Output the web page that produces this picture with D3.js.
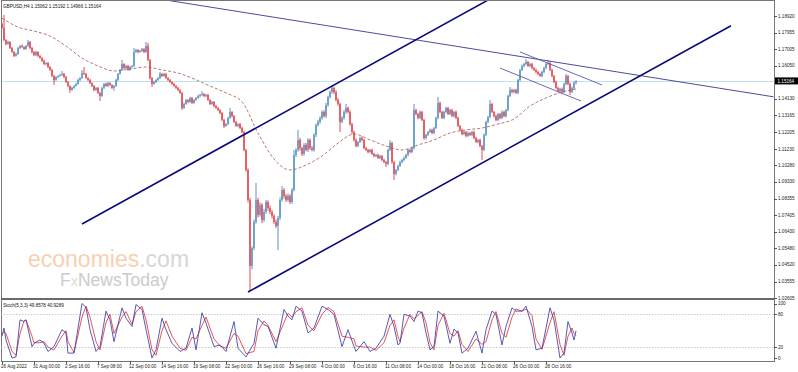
<!DOCTYPE html>
<html lang="en">
<head>
<meta charset="UTF-8" />
<title>GBPUSD H4</title>
<style>
  body { margin: 0; background: #fff; }
  svg { display: block; font-family: "Liberation Sans", Arial, sans-serif; }
</style>
</head>
<body>
<div id="chart"></div>
<script src="https://d3js.org/d3.v7.min.js"></script>
<script>
// H4 closes, 26 Aug 2022 08:00 .. 2 Nov 2022 04:00 (open = previous close)
const firstOpen = 1.1846;
const closes = [
  1.1823, 1.1753, 1.1730, 1.1742, 1.1707, 1.1684, 1.1661, 1.1672, 1.1707, 1.1719, 1.1713, 1.1701, 1.1719, 1.1742, 1.1707, 1.1684,
  1.1666, 1.1684, 1.1661, 1.1649, 1.1632, 1.1614, 1.1620, 1.1597, 1.1580, 1.1545, 1.1522, 1.1539, 1.1545, 1.1551, 1.1557, 1.1539,
  1.1510, 1.1487, 1.1464, 1.1476, 1.1487, 1.1499, 1.1522, 1.1533, 1.1562, 1.1557, 1.1533, 1.1522, 1.1504, 1.1487, 1.1464, 1.1476,
  1.1447, 1.1429, 1.1476, 1.1499, 1.1487, 1.1504, 1.1493, 1.1476, 1.1487, 1.1522, 1.1557, 1.1580, 1.1614, 1.1591, 1.1603, 1.1580,
  1.1597, 1.1603, 1.1684, 1.1695, 1.1684, 1.1690, 1.1701, 1.1684, 1.1719, 1.1638, 1.1533, 1.1499, 1.1510, 1.1522, 1.1533, 1.1557,
  1.1545, 1.1557, 1.1533, 1.1522, 1.1510, 1.1499, 1.1487, 1.1476, 1.1464, 1.1447, 1.1360, 1.1383, 1.1406, 1.1395, 1.1418, 1.1389,
  1.1406, 1.1418, 1.1429, 1.1435, 1.1441, 1.1429, 1.1435, 1.1406, 1.1383, 1.1395, 1.1371, 1.1360, 1.1348, 1.1331, 1.1290, 1.1256,
  1.1267, 1.1302, 1.1337, 1.1313, 1.1279, 1.1256, 1.1267, 1.1244, 1.1221, 1.1117, 1.1001, 1.0828, 1.0446, 1.0550, 1.0700, 1.0828,
  1.0741, 1.0799, 1.0712, 1.0758, 1.0816, 1.0781, 1.0758, 1.0735, 1.0700, 1.0677, 1.0723, 1.0828, 1.0885, 1.0851, 1.0828, 1.0851,
  1.0816, 1.0885, 1.1088, 1.1117, 1.1175, 1.1128, 1.1094, 1.1146, 1.1117, 1.1175, 1.1128, 1.1117, 1.1204, 1.1261, 1.1279, 1.1302,
  1.1337, 1.1313, 1.1377, 1.1423, 1.1452, 1.1476, 1.1452, 1.1406, 1.1383, 1.1279, 1.1302, 1.1337, 1.1360, 1.1337, 1.1267, 1.1221,
  1.1175, 1.1140, 1.1163, 1.1186, 1.1175, 1.1128, 1.1117, 1.1105, 1.1117, 1.1094, 1.1082, 1.1088, 1.1071, 1.1082, 1.1059, 1.1047,
  1.1036, 1.1117, 1.1157, 1.1047, 1.0978, 1.1001, 1.1024, 1.1047, 1.1059, 1.1071, 1.1088, 1.1117, 1.1105, 1.1128, 1.1348, 1.1325,
  1.1302, 1.1337, 1.1290, 1.1186, 1.1204, 1.1221, 1.1233, 1.1215, 1.1244, 1.1302, 1.1389, 1.1337, 1.1302, 1.1337, 1.1360, 1.1325,
  1.1348, 1.1313, 1.1337, 1.1302, 1.1256, 1.1233, 1.1209, 1.1221, 1.1198, 1.1215, 1.1204, 1.1221, 1.1186, 1.1163, 1.1175, 1.1140,
  1.1117, 1.1204, 1.1279, 1.1308, 1.1383, 1.1337, 1.1313, 1.1290, 1.1325, 1.1302, 1.1337, 1.1313, 1.1348, 1.1429, 1.1464, 1.1452,
  1.1464, 1.1447, 1.1522, 1.1580, 1.1603, 1.1614, 1.1626, 1.1603, 1.1614, 1.1591, 1.1580, 1.1568, 1.1557, 1.1545, 1.1568, 1.1591,
  1.1614, 1.1620, 1.1580, 1.1545, 1.1510, 1.1476, 1.1458, 1.1470, 1.1452, 1.1499, 1.1545, 1.1499, 1.1452, 1.1476, 1.15062, 1.15164
];
// wick lengths above / below the body, in pips
const upWick = [
  6, 75, 5, 8, 4, 6, 5, 8, 6, 5, 9, 4, 6, 12, 5, 6,
  5, 7, 4, 6, 5, 8, 4, 6, 5, 7, 6, 5, 4, 6, 17, 5,
  6, 5, 4, 7, 5, 6, 8, 5, 17, 35, 6, 5, 7, 4, 6, 5,
  5, 6, 7, 5, 8, 6, 5, 4, 6, 7, 5, 6, 23, 5, 7, 6,
  6, 5, 23, 6, 5, 7, 6, 5, 23, 17, 5, 6, 7, 5, 6, 12,
  5, 7, 6, 5, 6, 4, 7, 5, 6, 5, 6, 8, 6, 5, 7, 6,
  6, 5, 7, 6, 17, 5, 6, 7, 5, 6, 5, 7, 6, 5, 6, 7,
  6, 7, 23, 5, 6, 7, 5, 6, 8, 6, 8, 10, 12, 10, 15, 98,
  12, 15, 10, 18, 12, 10, 15, 12, 10, 14, 12, 15, 23, 12, 10, 14,
  10, 12, 29, 10, 58, 12, 8, 10, 12, 10, 8, 12, 10, 8, 12, 10,
  8, 10, 12, 8, 10, 17, 8, 10, 12, 8, 10, 12, 23, 8, 10, 8,
  8, 10, 6, 8, 10, 6, 8, 7, 6, 8, 7, 6, 8, 7, 6, 8,
  7, 8, 17, 8, 7, 6, 8, 7, 6, 8, 7, 6, 8, 7, 35, 8,
  7, 8, 6, 8, 7, 6, 8, 7, 6, 8, 35, 7, 6, 8, 7, 6,
  8, 7, 6, 8, 7, 6, 8, 7, 6, 8, 7, 6, 8, 7, 6, 8,
  6, 8, 7, 6, 23, 7, 6, 8, 7, 6, 8, 7, 6, 8, 17, 7,
  6, 8, 7, 6, 8, 7, 17, 6, 8, 7, 6, 8, 7, 6, 8, 7,
  6, 17, 8, 7, 6, 8, 7, 6, 8, 7, 12, 6, 8, 7, 6, 3
];
const dnWick = [
  5, 6, 8, 5, 6, 5, 6, 4, 5, 7, 5, 6, 4, 5, 6, 8,
  6, 5, 7, 4, 6, 5, 8, 6, 5, 6, 29, 5, 6, 4, 5, 7,
  5, 7, 17, 5, 6, 4, 5, 6, 5, 6, 4, 7, 5, 6, 8, 5,
  6, 29, 5, 6, 4, 7, 5, 6, 17, 5, 6, 4, 5, 7, 6, 5,
  5, 7, 6, 5, 8, 5, 6, 7, 5, 6, 8, 17, 5, 6, 5, 6,
  6, 5, 4, 7, 5, 6, 5, 6, 7, 5, 12, 6, 5, 8, 5, 6,
  5, 6, 5, 7, 5, 6, 8, 5, 6, 5, 7, 5, 6, 8, 6, 12,
  5, 6, 5, 7, 6, 5, 8, 6, 7, 8, 10, 15, 145, 20, 12, 10,
  14, 10, 18, 12, 10, 15, 12, 14, 10, 12, 139, 12, 10, 15, 12, 10,
  12, 10, 8, 12, 10, 15, 12, 10, 8, 12, 10, 8, 10, 12, 8, 10,
  10, 8, 12, 10, 8, 10, 12, 8, 10, 58, 8, 10, 12, 8, 10, 12,
  10, 8, 7, 6, 8, 7, 6, 8, 7, 6, 8, 7, 6, 8, 7, 6,
  17, 8, 7, 10, 35, 8, 7, 6, 8, 7, 6, 8, 7, 6, 8, 7,
  8, 7, 6, 10, 8, 7, 6, 8, 7, 6, 8, 7, 6, 8, 7, 6,
  7, 6, 8, 7, 6, 8, 7, 6, 8, 7, 6, 8, 7, 6, 8, 7,
  58, 7, 6, 8, 7, 6, 8, 7, 6, 8, 7, 6, 8, 7, 6, 8,
  7, 6, 8, 7, 6, 8, 7, 6, 8, 7, 6, 8, 7, 6, 8, 7,
  8, 7, 6, 8, 7, 6, 8, 7, 12, 6, 8, 7, 17, 6, 8, 10
];

// moving average (dashed), read at every 8th bar
const maBars = [0, 8, 16, 24, 32, 40, 48, 56, 64, 72, 80, 88, 96, 104, 112, 120, 128, 136, 144,
  152, 160, 168, 176, 184, 192, 200, 208, 216, 224, 232, 240, 248, 256, 264, 272, 280, 287];
const maValues = [1.1880, 1.1828, 1.1805, 1.1776, 1.1718, 1.1649, 1.1603, 1.1574, 1.1585, 1.1597,
  1.1580, 1.1562, 1.1528, 1.1487, 1.1447, 1.1395, 1.1215, 1.1065, 1.1001, 1.1030, 1.1082, 1.1157,
  1.1209, 1.1175, 1.1140, 1.1117, 1.1146, 1.1175, 1.1215, 1.1233, 1.1244, 1.1267, 1.1296, 1.1371,
  1.1418, 1.1452, 1.1470];

// Stoch(5,3,3) turning points
const stochBars = [0, 1, 2, 5, 7, 9, 11, 12, 15, 16, 19, 21, 23, 26, 30, 32, 33, 36, 40, 42,
  44, 47, 49, 52, 54, 56, 60, 62, 65, 67, 70, 72, 75, 77, 80, 82, 85, 89, 92, 95,
  97, 100, 102, 106, 109, 112, 116, 118, 122, 126, 128, 131, 133, 137, 141, 143, 145, 147, 150, 153,
  156, 160, 163, 166, 170, 173, 176, 177, 181, 184, 187, 191, 194, 196, 198, 199, 201, 204, 206, 208,
  210, 212, 214, 216, 218, 221, 224, 226, 228, 230, 233, 237, 240, 242, 245, 247, 250, 252, 255, 257,
  260, 262, 265, 267, 270, 274, 276, 279, 281, 283, 285, 286, 287];
const stochK = [40, 55, 33, 0, 2, 70, 67, 70, 21, 27, 33, 27, 12, 21, 52, 46, 9, 9, 100, 93,
  52, 12, 21, 86, 70, 30, 92, 73, 58, 98, 89, 52, 0, 15, 73, 52, 27, 12, 18, 55,
  15, 83, 64, 21, 24, 12, 67, 18, 2, 27, 73, 61, 58, 18, 89, 77, 70, 95, 86, 46,
  55, 95, 89, 80, 21, 52, 21, 12, 30, 12, 18, 40, 80, 58, 24, 27, 80, 77, 67, 86,
  83, 46, 15, 21, 86, 77, 27, 53, 46, 9, 18, 49, 9, 52, 86, 80, 24, 58, 92, 86,
  86, 95, 58, 15, 18, 92, 70, 0, 9, 67, 46, 33, 49.8578];
const stochD = [45, 48, 45, 12, 5, 45, 68, 70, 40, 28, 28, 30, 20, 15, 40, 50, 30, 10, 75, 95,
  75, 30, 15, 65, 80, 45, 75, 85, 62, 85, 95, 70, 15, 5, 50, 68, 40, 18, 14, 38,
  35, 60, 75, 35, 22, 18, 45, 40, 8, 12, 50, 68, 60, 30, 65, 82, 75, 85, 92, 60,
  50, 80, 93, 85, 40, 38, 35, 22, 20, 20, 14, 28, 60, 70, 40, 30, 55, 80, 72, 78,
  85, 65, 28, 15, 60, 82, 45, 40, 50, 25, 12, 35, 25, 30, 70, 85, 45, 38, 75, 90,
  86, 90, 78, 35, 16, 65, 85, 25, 5, 40, 55, 45, 40.9289];

// drawn objects, [bar, price] end points
const channelUpper = [[40, 1.0689], [250, 1.2029]];
const channelLower = [[123, 1.0295], [364.5, 1.1836]];
const longLine = [[80, 1.1988], [386, 1.1424]];
const wedgeUpper = [[259, 1.1684], [300, 1.1493]];
const wedgeLower = [[249, 1.1591], [289.5, 1.1400]];

const priceTicks = [1.18920, 1.17955, 1.17005, 1.16050, 1.14130, 1.13165, 1.12205, 1.11230,
  1.10280, 1.09330, 1.08355, 1.07405, 1.06430, 1.05480, 1.04520, 1.03555, 1.02605];
const stochTicks = [100, 80, 20, 0];
const timeLabels = ["26 Aug 2022", "31 Aug 00:00", "2 Sep 16:00", "7 Sep 08:00", "12 Sep 00:00",
  "14 Sep 16:00", "19 Sep 08:00", "22 Sep 00:00", "26 Sep 16:00", "29 Sep 08:00", "4 Oct 00:00",
  "6 Oct 16:00", "11 Oct 08:00", "14 Oct 00:00", "18 Oct 16:00", "21 Oct 08:00", "26 Oct 00:00",
  "28 Oct 16:00"];
const lastPrice = 1.15164;

const width = 798, height = 372;
const left = 1, right = 774;
const mainTop = 0.5, mainBottom = 298;
const stTop = 300, stBottom = 361;
const fs = 4.6;

const x = d3.scaleLinear().domain([0, 386]).range([2, 774]);
const y = d3.scaleLinear().domain([1.02605, 1.1892]).range([298, 16]);
const ys = d3.scaleLinear().domain([0, 100]).range([358, 303.5]);

const svg = d3.select("#chart").append("svg")
  .attr("width", width).attr("height", height);

svg.append("rect").attr("width", width).attr("height", height).attr("fill", "#fff");

const defs = svg.append("defs");
defs.append("clipPath").attr("id", "mainClip").append("rect")
  .attr("x", left + 0.5).attr("y", mainTop + 0.5)
  .attr("width", right - left - 1).attr("height", mainBottom - mainTop - 1);
defs.append("clipPath").attr("id", "stClip").append("rect")
  .attr("x", left + 0.5).attr("y", stTop + 1)
  .attr("width", right - left - 1).attr("height", stBottom - stTop - 1);

const main = svg.append("g").attr("clip-path", "url(#mainClip)");

// bid line
main.append("line")
  .attr("x1", left).attr("x2", right)
  .attr("y1", Math.round(y(lastPrice)) + 0.5).attr("y2", Math.round(y(lastPrice)) + 0.5)
  .style("stroke", "#bfe2ef").style("stroke-width", 1);

// candles
const candles = closes.map((c, i) => {
  const o = i === 0 ? firstOpen : closes[i - 1];
  return {
    i, o, c,
    h: Math.max(o, c) + upWick[i] / 10000,
    l: Math.min(o, c) - dnWick[i] / 10000
  };
});
const bull = "#4a86c0", bear = "#e3343a";

main.selectAll(".wick").data(candles).enter().append("line")
  .attr("class", "wick")
  .attr("x1", (d) => x(d.i)).attr("x2", (d) => x(d.i))
  .attr("y1", (d) => y(d.h)).attr("y2", (d) => y(d.l))
  .style("stroke", (d) => (d.c >= d.o ? bull : bear))
  .style("stroke-width", 0.9);

main.selectAll(".body").data(candles).enter().append("rect")
  .attr("class", "body")
  .attr("x", (d) => x(d.i) - 0.6)
  .attr("width", 1.2)
  .attr("y", (d) => y(Math.max(d.o, d.c)))
  .attr("height", (d) => Math.max(0.8, Math.abs(y(d.o) - y(d.c))))
  .style("fill", (d) => (d.c >= d.o ? bull : bear));

// moving average
main.append("path")
  .datum(maBars.map((b, k) => [b, maValues[k]]))
  .attr("d", d3.line().x((d) => x(d[0])).y((d) => y(d[1])).curve(d3.curveMonotoneX))
  .style("fill", "none").style("stroke", "#a5544f")
  .style("stroke-width", 0.8).style("stroke-dasharray", "3,2");

// trend lines
function trend(pts, color, w) {
  main.append("line")
    .attr("x1", x(pts[0][0])).attr("y1", y(pts[0][1]))
    .attr("x2", x(pts[1][0])).attr("y2", y(pts[1][1]))
    .style("stroke", color).style("stroke-width", w);
}
trend(longLine, "#4b4b9e", 1);
trend(wedgeUpper, "#5858b0", 0.9);
trend(wedgeLower, "#5858b0", 0.9);
trend(channelUpper, "#0a0a7a", 1.6);
trend(channelLower, "#0a0a7a", 1.6);

// watermark
const wm1 = svg.append("text").attr("x", 28).attr("y", 266.5)
  .style("font-family", "'Liberation Sans', Arial, sans-serif").style("font-size", "23px");
wm1.append("tspan").text("economies").style("fill", "#f9cfb0");
wm1.append("tspan").text(".com").style("fill", "#d6d6d6");
const wm2 = svg.append("text").attr("x", 60).attr("y", 286)
  .style("font-family", "'Liberation Sans', Arial, sans-serif").style("font-size", "17.5px")
  .style("fill", "#cbcbcb");
wm2.append("tspan").text("F");
wm2.append("tspan").text("x").style("fill", "#dcdcdc").style("font-size", "14.5px");
wm2.append("tspan").text("NewsToday");

// frame of the price window
svg.append("line").attr("x1", left + 0.5).attr("x2", left + 0.5)
  .attr("y1", 0).attr("y2", stBottom)
  .style("stroke", "#777").style("stroke-width", 1);
svg.append("line").attr("x1", right + 0.5).attr("x2", right + 0.5)
  .attr("y1", 0).attr("y2", stBottom)
  .style("stroke", "#777").style("stroke-width", 1);
svg.append("line").attr("x1", left).attr("x2", right + 1)
  .attr("y1", mainTop).attr("y2", mainTop)
  .style("stroke", "#777").style("stroke-width", 1);
svg.append("line").attr("x1", left).attr("x2", right + 1)
  .attr("y1", 299).attr("y2", 299)
  .style("stroke", "#6a6a6a").style("stroke-width", 2.2);
svg.append("line").attr("x1", left).attr("x2", right + 1)
  .attr("y1", stBottom + 0.5).attr("y2", stBottom + 0.5)
  .style("stroke", "#777").style("stroke-width", 1);

// title
svg.append("text").attr("x", 3).attr("y", 7.5)
  .style("font-size", fs + "px").style("fill", "#111")
  .text("GBPUSD,H4  1.15062 1.15192 1.14966 1.15164");

// price axis
const pAxis = svg.append("g");
pAxis.selectAll("line").data(priceTicks).enter().append("line")
  .attr("x1", right).attr("x2", right + 3)
  .attr("y1", (d) => Math.round(y(d)) + 0.5).attr("y2", (d) => Math.round(y(d)) + 0.5)
  .style("stroke", "#555").style("stroke-width", 1);
pAxis.selectAll("text").data(priceTicks).enter().append("text")
  .attr("x", right + 4).attr("y", (d) => y(d) + 1.6)
  .style("font-size", fs + "px").style("fill", "#222")
  .text((d) => d.toFixed(5));

// last price tag
const ly = y(lastPrice);
svg.append("rect").attr("x", right + 1).attr("y", ly - 3.5)
  .attr("width", 23).attr("height", 7).style("fill", "#000");
svg.append("text").attr("x", right + 3.5).attr("y", ly + 1.7)
  .style("font-size", fs + "px").style("fill", "#fff")
  .text(lastPrice.toFixed(5));

// stochastic window
const st = svg.append("g");
st.selectAll(".lvl").data([80, 20]).enter().append("line")
  .attr("class", "lvl")
  .attr("x1", left).attr("x2", right)
  .attr("y1", (d) => Math.round(ys(d)) + 0.5).attr("y2", (d) => Math.round(ys(d)) + 0.5)
  .style("stroke", "#bbb").style("stroke-width", 0.8).style("stroke-dasharray", "1.5,1.5");

const stPlot = st.append("g").attr("clip-path", "url(#stClip)");
const stLine = d3.line().x((d) => x(d[0])).y((d) => ys(d[1]));
stPlot.append("path")
  .datum(stochBars.map((b, k) => [b, stochD[k]]))
  .attr("d", stLine)
  .style("fill", "none").style("stroke", "#e0383c").style("stroke-width", 0.85);
stPlot.append("path")
  .datum(stochBars.map((b, k) => [b, stochK[k]]))
  .attr("d", stLine)
  .style("fill", "none").style("stroke", "#3c3ca8").style("stroke-width", 0.85);

st.append("text").attr("x", 3).attr("y", stTop + 7)
  .style("font-size", fs + "px").style("fill", "#111")
  .text("Stoch(5,3,3) 49.8578 40.9289");

st.selectAll(".stTick").data(stochTicks).enter().append("line")
  .attr("class", "stTick")
  .attr("x1", right).attr("x2", right + 3)
  .attr("y1", (d) => Math.round(ys(d)) + 0.5).attr("y2", (d) => Math.round(ys(d)) + 0.5)
  .style("stroke", "#555").style("stroke-width", 1);
st.selectAll(".stLab").data(stochTicks).enter().append("text")
  .attr("class", "stLab")
  .attr("x", right + 4).attr("y", (d) => ys(d) + 1.6)
  .style("font-size", fs + "px").style("fill", "#222")
  .text((d) => d);

// time axis
const tAxis = svg.append("g");
tAxis.selectAll("line").data(timeLabels).enter().append("line")
  .attr("x1", (d, k) => Math.round(x(k * 16)) + 0.5).attr("x2", (d, k) => Math.round(x(k * 16)) + 0.5)
  .attr("y1", stBottom).attr("y2", stBottom + 3)
  .style("stroke", "#555").style("stroke-width", 1);
tAxis.selectAll("text").data(timeLabels).enter().append("text")
  .attr("x", (d, k) => x(k * 16) - 1).attr("y", 368)
  .style("font-size", fs + "px").style("fill", "#222")
  .text((d) => d);
</script>
</body>
</html>
